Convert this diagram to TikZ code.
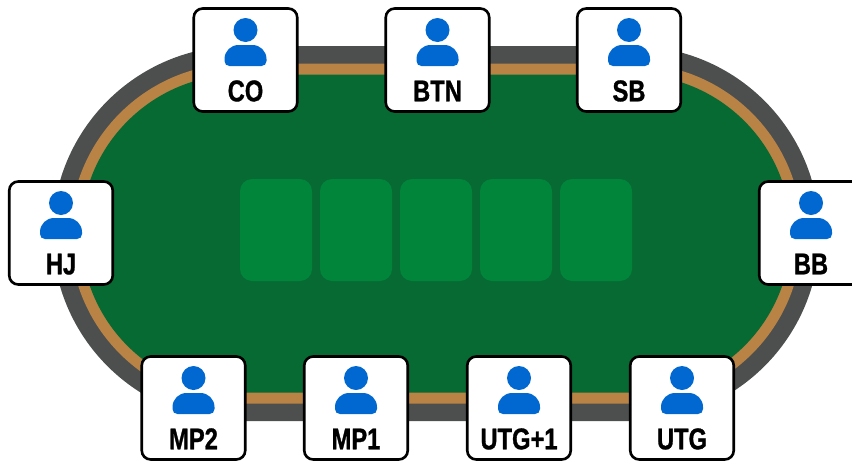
\documentclass[tikz,border=0pt]{standalone}
\usepackage{fontspec}
\setmainfont{Liberation Sans}[FakeStretch=0.79,BoldFeatures={FakeBold=1}]
\definecolor{rail}{HTML}{4D4F4E}
\definecolor{trim}{HTML}{B88345}
\definecolor{felt}{HTML}{086A33}
\definecolor{slot}{HTML}{00853A}
\definecolor{person}{HTML}{0068D0}
\tikzset{
  x=1pt,y=-1pt,
  seatbox/.style={draw=black,line width=2.6pt,fill=white,rounded corners=9pt,minimum width=103.5pt,minimum height=103pt,inner sep=0pt},
  seatname/.style={font=\bfseries\fontsize{30}{30}\selectfont,text=black,inner sep=0pt,anchor=base},
  cardslot/.style={fill=slot,rounded corners=12pt,minimum width=72pt,minimum height=102pt,inner sep=0pt,draw=none}
}
\newcommand{\seatat}[4]{%
  \node[seatbox] (#1) at (#2,#3) {};
  \fill[person] (#2,#3-30) circle[radius=12];
  \fill[person] (#2-21,#3-1)
     .. controls (#2-21,#3-9) and (#2-14.5,#3-15) .. (#2-7,#3-15)
     -- (#2+7,#3-15)
     .. controls (#2+14.5,#3-15) and (#2+21,#3-9) .. (#2+21,#3-1)
     -- (#2+21,#3+1) .. controls (#2+21,#3+4) and (#2+19,#3+6) .. (#2+16,#3+6)
     -- (#2-16,#3+6) .. controls (#2-19,#3+6) and (#2-21,#3+4) .. (#2-21,#3+1) -- cycle;
  \node[seatname] (#1t) at (#2,#3+41.3) {#4};
}
\newcommand{\tableshape}[2]{% inset, colour
  \fill[#2] (240,46+#1) -- (632,46+#1) arc[start angle=-90,end angle=90,radius=187.5-#1]
     -- (240,421-#1) arc[start angle=90,end angle=270,radius=187.5-#1] -- cycle;
}
\begin{document}
\begin{tikzpicture}
\useasboundingbox (0,0) rectangle (852,461);
\clip (0,0) rectangle (852,461);
\tableshape{0}{rail}
\tableshape{17.5}{trim}
\tableshape{28.5}{felt}
\node[cardslot] (c1) at (276,230) {};
\node[cardslot] (c2) at (356,230) {};
\node[cardslot] (c3) at (436,230) {};
\node[cardslot] (c4) at (516,230) {};
\node[cardslot] (c5) at (596,230) {};
\seatat{co}{245.5}{60}{CO}
\seatat{btn}{437.5}{60}{BTN}
\seatat{sb}{629}{60}{SB}
\seatat{hj}{61}{233}{HJ}
\seatat{bb}{811}{233}{BB}
\seatat{mp2}{193.5}{408}{MP2}
\seatat{mp1}{356}{408}{MP1}
\seatat{utga}{519}{408}{UTG+1}
\seatat{utg}{682}{408}{UTG}
\end{tikzpicture}
\end{document}
